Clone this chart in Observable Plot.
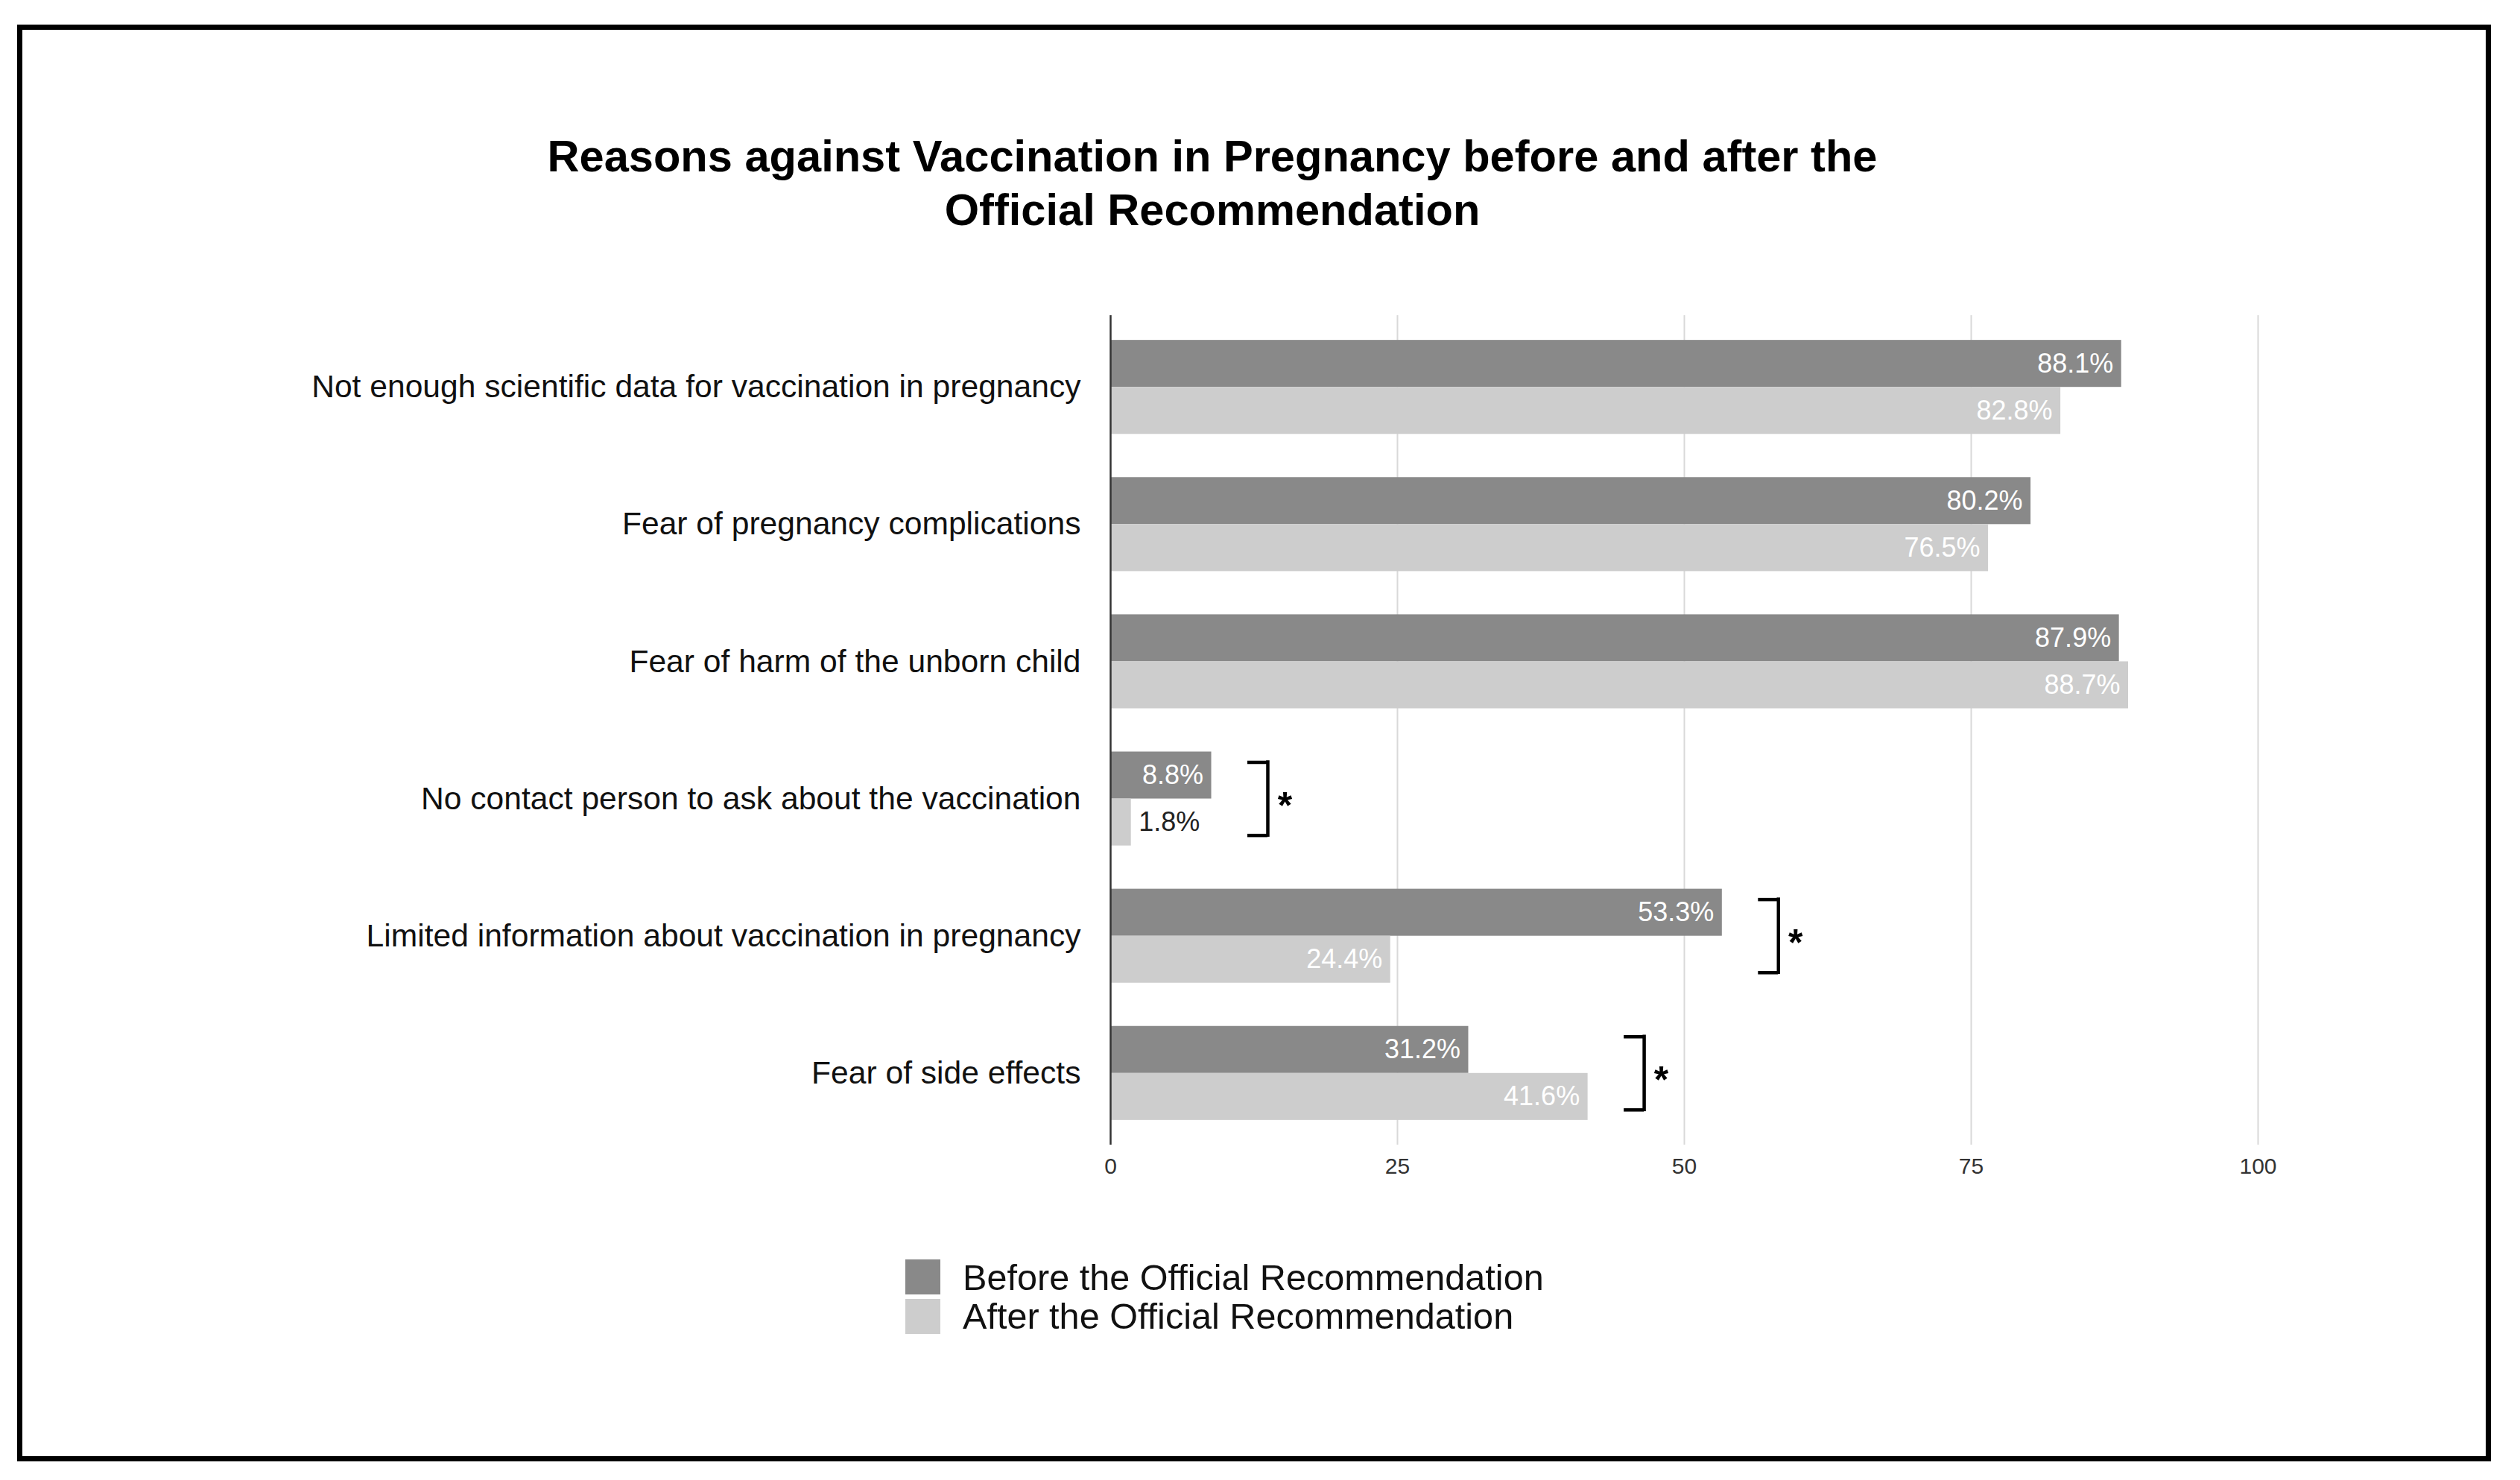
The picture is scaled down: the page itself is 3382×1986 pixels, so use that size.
<!DOCTYPE html>
<html>
<head>
<meta charset="utf-8">
<script src="https://cdn.jsdelivr.net/npm/d3@7"></script>
<script src="https://cdn.jsdelivr.net/npm/@observablehq/plot@0.6"></script>
<style>
  html, body { margin: 0; padding: 0; background: #fff; }
  body { width: 3382px; height: 1986px; position: relative; overflow: hidden;
         font-family: "Liberation Sans", Arial, Helvetica, sans-serif; color: #111; }
  #frame { position: absolute; left: 23px; top: 33px; width: 3320px; height: 1928px;
           border: 7px solid #000; box-sizing: border-box; z-index: 10; pointer-events: none; }
  #title { position: absolute; left: 0; top: 174px; width: 3254px; text-align: center;
           font-weight: bold; font-size: 59.6px; line-height: 72px; color: #000; }
  #chart { position: absolute; left: 0; top: 380px; }
  .lg-sw { position: absolute; left: 1215px; width: 47px; height: 47px; }
  .lg-tx { position: absolute; left: 1292px; font-size: 48.6px; line-height: 53px; color: #111; white-space: nowrap; }
</style>
</head>
<body>
<div id="frame"></div>
<div id="title">Reasons against Vaccination in Pregnancy before and after the<br>Official Recommendation</div>
<div id="chart"></div>
<div id="legend"></div>
<script>
// ---- data ----
const categories = [
  "Not enough scientific data for vaccination in pregnancy",
  "Fear of pregnancy complications",
  "Fear of harm of the unborn child",
  "No contact person to ask about the vaccination",
  "Limited information about vaccination in pregnancy",
  "Fear of side effects"
];
const seriesNames = ["Before the Official Recommendation", "After the Official Recommendation"];
const beforeValues = [88.1, 80.2, 87.9, 8.8, 53.3, 31.2];
const afterValues  = [82.8, 76.5, 88.7, 1.8, 24.4, 41.6];
const significant  = [false, false, false, true, true, true];
const xTicks = [0, 25, 50, 75, 100];
const seriesColors = ["#898989", "#cdcdcd"];

// ---- layout ----
const W = 3382, H = 1230;
const mTop = 43, mBottom = 74, mLeft = 1490, mRight = 352;
const padInner = 0.315, padOuter = 0.18;
const frameH = H - mTop - mBottom;
const step = frameH / (categories.length - padInner + 2 * padOuter);
const bw = step * (1 - padInner);
const half = bw / 2;
const bracketInset = 14;
const bracketGap = 4.9, armLen = 1.75;

const rows = categories.flatMap((c, i) => [
  {category: c, series: seriesNames[0], value: beforeValues[i]},
  {category: c, series: seriesNames[1], value: afterValues[i]}
]);
const beforeRows = rows.filter(d => d.series === seriesNames[0]);
const afterRows = rows.filter(d => d.series === seriesNames[1]);
const sigRows = categories.map((c, i) => ({category: c, bx: Math.max(beforeValues[i], afterValues[i]) + bracketGap}))
  .filter((d, i) => significant[i]);
const fmt = d => d.value.toFixed(1) + "%";
const inside = d => d.value >= 5;

const plot = Plot.plot({
  width: W, height: H,
  marginTop: mTop, marginBottom: mBottom, marginLeft: mLeft, marginRight: mRight,
  style: {fontFamily: "Liberation Sans, Arial, Helvetica, sans-serif", background: "transparent", color: "#222"},
  x: {domain: [0, 100], ticks: xTicks, tickSize: 0, tickPadding: 17, label: null, tickFormat: d => String(d)},
  y: {domain: categories, paddingInner: padInner, paddingOuter: padOuter, round: false,
      tickSize: 0, tickPadding: 40, label: null},
  color: {domain: seriesNames, range: seriesColors},
  marks: [
    Plot.ruleX(xTicks.filter(d => d > 0), {stroke: "#d9d9d9", strokeWidth: 2}),
    Plot.barX(beforeRows, {x: "value", y: "category", fill: "series", insetBottom: half}),
    Plot.barX(afterRows, {x: "value", y: "category", fill: "series", insetTop: half}),
    Plot.ruleX([0], {stroke: "#333", strokeWidth: 2.5}),
    Plot.text(beforeRows.filter(inside), {x: "value", y: "category", text: fmt, textAnchor: "end",
      dx: -11, dy: -half / 2, fill: "white", fontSize: 36}),
    Plot.text(afterRows.filter(inside), {x: "value", y: "category", text: fmt, textAnchor: "end",
      dx: -11, dy: half / 2, fill: "white", fontSize: 36}),
    Plot.text(beforeRows.filter(d => !inside(d)), {x: "value", y: "category", text: fmt, textAnchor: "start",
      dx: 10, dy: -half / 2, fill: "#222", fontSize: 36}),
    Plot.text(afterRows.filter(d => !inside(d)), {x: "value", y: "category", text: fmt, textAnchor: "start",
      dx: 10, dy: half / 2, fill: "#222", fontSize: 36}),
    Plot.tickX(sigRows, {x: "bx", y: "category", stroke: "#000", strokeWidth: 4.5,
      insetTop: bracketInset, insetBottom: bracketInset, strokeLinecap: "square"}),
    Plot.ruleY(sigRows, {y: "category", x1: d => d.bx - armLen, x2: "bx", stroke: "#000", strokeWidth: 4.5,
      dy: -(half - bracketInset)}),
    Plot.ruleY(sigRows, {y: "category", x1: d => d.bx - armLen, x2: "bx", stroke: "#000", strokeWidth: 4.5,
      dy: (half - bracketInset)}),
    Plot.text(sigRows, {x: "bx", y: "category", text: () => "*", dx: 23, dy: 10,
      fontSize: 50, fontWeight: "bold", fill: "#000"})
  ]
});

d3.select(plot).selectAll('[aria-label^="y-axis"] text').style("font-size", "42.6px").style("fill", "#111");
d3.select(plot).selectAll('[aria-label^="x-axis"] text').style("font-size", "30px").style("fill", "#333");
document.getElementById("chart").appendChild(plot);

// ---- legend (HTML, below the SVG) ----
const legend = document.getElementById("legend");
const swTops = [1690, 1743], txTops = [1688, 1740];
seriesNames.forEach((name, i) => {
  const sw = document.createElement("div");
  sw.className = "lg-sw";
  sw.style.top = swTops[i] + "px";
  sw.style.background = seriesColors[i];
  legend.appendChild(sw);
  const tx = document.createElement("div");
  tx.className = "lg-tx";
  tx.style.top = txTops[i] + "px";
  tx.textContent = name;
  legend.appendChild(tx);
});
</script>
</body>
</html>
